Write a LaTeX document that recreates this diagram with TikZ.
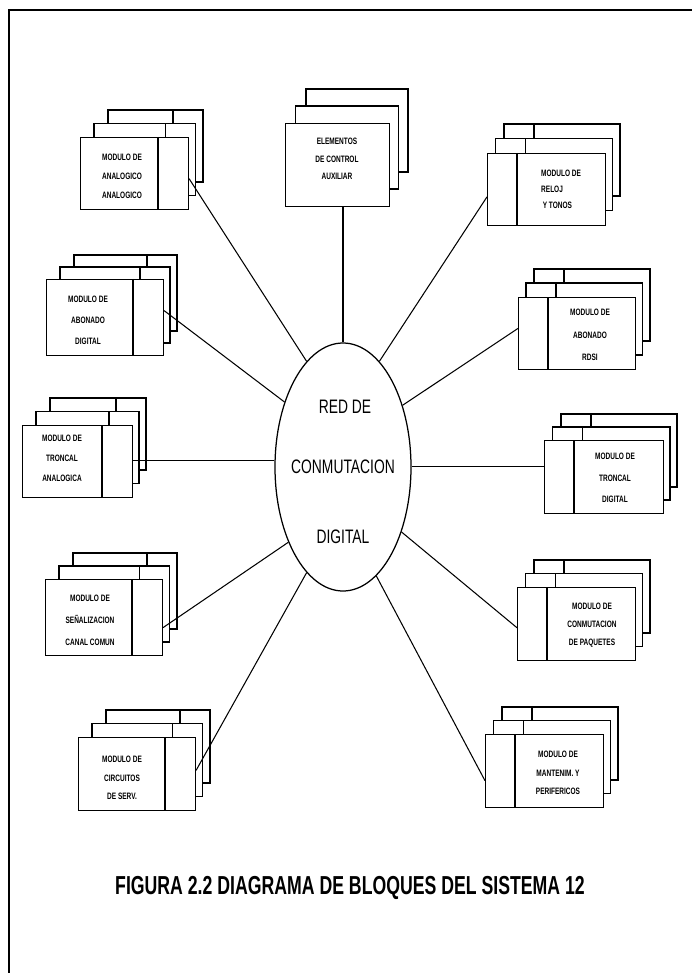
\documentclass[tikz,border=0pt]{standalone}
\usepackage{fontspec}
\setmainfont{Liberation Sans}
\newfontfamily\boxfont[FakeStretch=0.7]{Liberation Sans}
\newfontfamily\redfont[FakeStretch=0.71]{Liberation Sans}
\newfontfamily\titlefont[FakeStretch=0.68]{Liberation Sans}
\usetikzlibrary{shapes.geometric,calc}
\tikzset{
  boxline/.style={line width=1.1pt},
  conn/.style={line width=1.05pt},
  boxtxt/.style={font={\boxfont\bfseries\fontsize{9.3pt}{#1 pt}\selectfont}, align=center, inner sep=0pt},
  redtxt/.style={font={\redfont\fontsize{19.5pt}{22pt}\selectfont}, inner sep=0pt},
}
% #1 name, #2 L, #3 T, #4 R, #5 B, #6 left shift, #7 right shift, #8 vertical shift, #9 divider (0 none, 1 right, 2 left)
\newcommand{\mystack}[9]{%
  \foreach \k in {2,1}{%
    \pgfmathsetmacro{\xa}{#2+\k*#6}%
    \pgfmathsetmacro{\xb}{#4+\k*#7}%
    \pgfmathsetmacro{\ya}{#3-\k*#8}%
    \pgfmathsetmacro{\yb}{#5-\k*#8}%
    \draw[boxline,fill=white] (\xa,\ya) rectangle (\xb,\yb);
    \ifcase#9\relax\or
      \draw[boxline] (\xb-30,\ya) -- (\xb-30,\yb);
    \or
      \draw[boxline] (\xa+30,\ya) -- (\xa+30,\yb);
    \fi
  }
  \pgfmathsetmacro{\ww}{#4-#2}%
  \pgfmathsetmacro{\hh}{#5-#3}%
  \node[boxline,draw,fill=white,minimum width=\ww pt,minimum height=\hh pt,inner sep=0pt,anchor=north west] (#1) at (#2,#3) {};
  \ifcase#9\relax\or
    \draw[boxline] (#4-30,#3) -- (#4-30,#5);
  \or
    \draw[boxline] (#2+30,#3) -- (#2+30,#5);
  \fi
}
\begin{document}
\begin{tikzpicture}[x=1pt,y=-1pt]
\useasboundingbox (0,0) rectangle (692,973);
% frame
\draw[line width=1.4pt] (9,975) -- (9,10) -- (694,10);

% central network
\node[draw,ellipse,line width=1.25pt,minimum width=136pt,minimum height=248pt,inner sep=0pt] (red) at (343,467) {};
\node[redtxt] (red1) at (345,407) {RED DE};
\node[redtxt] (red2) at (343,467) {CONMUTACION};
\node[redtxt] (red3) at (343,537) {DIGITAL};

% stacks
\mystack{ana}{80}{137}{188}{209}{14}{7.5}{13.5}{1}
\mystack{abd}{46}{279}{163}{355}{14}{7}{12}{1}
\mystack{tra}{22}{425}{132}{497}{14}{7}{13.5}{1}
\mystack{sen}{45}{579}{162}{655}{14}{7.5}{13}{1}
\mystack{cir}{78}{737}{195}{810}{14}{7.5}{13.5}{1}
\mystack{ele}{285}{123}{389}{206}{10.5}{9.5}{17}{0}
\mystack{rel}{487}{153}{605}{225}{8.5}{7.5}{14.5}{2}
\mystack{rds}{518}{297}{635}{369}{8}{7.5}{14}{2}
\mystack{trd}{544}{440}{663}{513}{8.5}{7}{13}{2}
\mystack{paq}{517}{587}{635}{660}{8.5}{7.5}{13.5}{2}
\mystack{man}{485}{734}{603}{807}{8.5}{7.5}{13.5}{2}

% texts
\node[boxtxt=19] (anaT) at (122,176) {MODULO DE\\ANALOGICO\\ANALOGICO};
\node[boxtxt=21] (abdT) at (88,320) {MODULO DE\\ABONADO\\DIGITAL};
\node[boxtxt=20] (traT) at (62,458) {MODULO DE\\TRONCAL\\ANALOGICA};
\node[boxtxt=22] (senT) at (90,620) {MODULO DE\\SEÑALIZACION\\CANAL COMUN};
\node[boxtxt=18.5] (cirT) at (122,778) {MODULO DE\\CIRCUITOS\\DE SERV.};
\node[boxtxt=17.5] (eleT) at (337,159) {ELEMENTOS\\DE CONTROL\\AUXILIAR};
\node[boxtxt=16,align=left,anchor=west] (relT) at (541,189) {MODULO DE\\RELOJ\\\,Y TONOS};
\node[boxtxt=22.5] (rdsT) at (590,335) {MODULO DE\\ABONADO\\RDSI};
\node[boxtxt=21.5] (trdT) at (615,478) {MODULO DE\\TRONCAL\\DIGITAL};
\node[boxtxt=18] (paqT) at (592,625) {MODULO DE\\CONMUTACION\\DE PAQUETES};
\node[boxtxt=18.5] (manT) at (558,773) {MODULO DE\\MANTENIM. Y\\PERIFERICOS};

% connectors
\draw[conn] ($(ana.north east)!0.57!(ana.south east)$) -- (red.109);
\draw[conn] ($(abd.north east)!0.41!(abd.south east)$) -- (red.132);
\coordinate (trs) at ($(tra.north east)!0.49!(tra.south east)$);
\draw[conn] (trs) -- (trs -| red.west);
\draw[conn] ($(sen.north east)!0.63!(sen.south east)$) -- (red.234);
\draw[conn] ($(cir.north east)!0.45!(cir.south east)$) -- (red.251);
\draw[conn] (red.north) -- (red.north |- ele.south);
\draw[conn] ($(rel.north west)!0.6!(rel.south west)$) -- (red.71);
\draw[conn] ($(rds.north west)!0.43!(rds.south west)$) -- (red.46);
\coordinate (tds) at ($(trd.north west)!0.36!(trd.south west)$);
\draw[conn] (tds) -- (tds -| red.east);
\draw[conn] ($(paq.north west)!0.55!(paq.south west)$) -- (red.312);
\draw[conn] ($(man.north west)!0.63!(man.south west)$) -- (red.287);

% caption
\node[font={\titlefont\bfseries\fontsize{26pt}{30pt}\selectfont},inner sep=0pt] (title) at (350,888) {FIGURA 2.2 DIAGRAMA DE BLOQUES DEL SISTEMA 12};
\end{tikzpicture}
\end{document}
